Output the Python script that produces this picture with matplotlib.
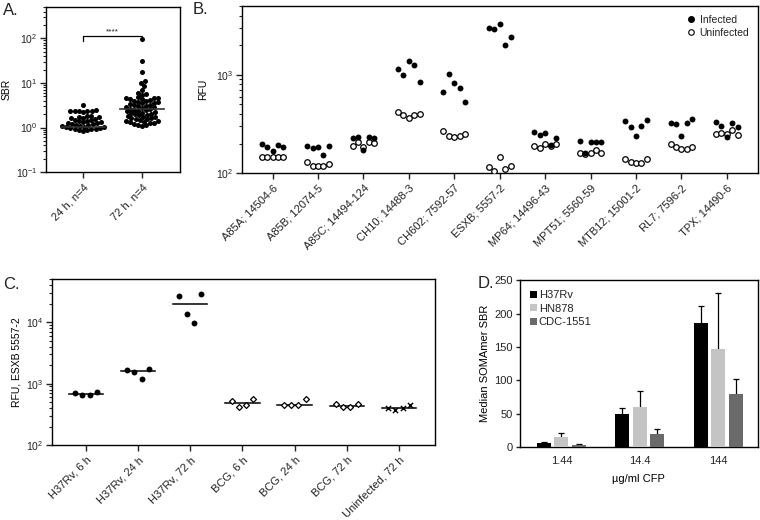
import numpy as np
import matplotlib
matplotlib.use("Agg")
import matplotlib.pyplot as plt
from matplotlib.ticker import LogLocator, NullFormatter
from matplotlib.patches import Patch
from matplotlib.lines import Line2D

plt.rcParams['font.family'] = ['Liberation Sans', 'DejaVu Sans']
plt.rcParams['mathtext.default'] = 'regular'
plt.rcParams['font.size'] = 7.5
plt.rcParams['axes.linewidth'] = 1.0
plt.rcParams['text.color'] = '#222222'
plt.rcParams['xtick.color'] = '#222222'
plt.rcParams['ytick.color'] = '#222222'

"""
Data
"""
# Panel A: SBR per SOMAmer
a_groups = ['24 h, n=4', '72 h, n=4']
sbr_24h = [3.2, 2.25, 2.3, 2.3, 2.35, 2.4, 2.4, 2.45,
           0.85, 0.87, 0.89, 0.91, 0.93, 0.95, 0.97, 0.99, 1.01, 1.03, 1.05,
           1.08, 1.1, 1.13, 1.16, 1.19, 1.22, 1.25, 1.28, 1.31, 1.35, 1.39,
           1.43, 1.47, 1.51, 1.55, 1.6, 1.65, 1.7, 1.75, 1.8, 1.85]
sbr_72h = [95, 31, 18, 11, 10, 8.5, 7.0, 6.0, 5.7, 5.5,
           4.2, 4.3, 4.4, 4.5, 4.6, 4.7, 4.8,
           1.10, 1.13, 1.17, 1.20, 1.24, 1.28, 1.31, 1.35, 1.39, 1.43, 1.48,
           1.52, 1.57, 1.61, 1.66, 1.71, 1.76, 1.82, 1.87, 1.93, 1.99, 2.05,
           2.11, 2.17, 2.24, 2.30, 2.37, 2.44, 2.52, 2.59, 2.67, 2.75, 2.83,
           2.92, 3.00, 3.10, 3.19, 3.28, 3.38, 3.48, 3.59, 3.70, 3.81, 3.92, 4.0]
a_medians = [1.02, 2.6]

# Panel B: RFU per SOMAmer, 5 replicates each
b_labels = ['A85A; 14504-6', 'A85B; 12074-5', 'A85C; 14494-124', 'CH10; 14488-3',
            'CH602; 7592-57', 'ESXB; 5557-2', 'MP64; 14496-43', 'MPT51; 5560-59',
            'MTB12; 15001-2', 'RL7; 7596-2', 'TPX; 14490-6']
b_infected = [[198, 186, 169, 192, 183],
              [189, 181, 184, 152, 189],
              [229, 235, 172, 233, 229],
              [1143, 1006, 1389, 1265, 849],
              [676, 1023, 822, 742, 535],
              [2995, 2925, 3310, 2025, 2460],
              [260, 244, 258, 193, 226],
              [212, 161, 206, 207, 206],
              [339, 297, 239, 302, 347],
              [321, 318, 239, 321, 358],
              [329, 302, 234, 326, 292]]
b_uninfected = [[147, 147, 147, 147, 147],
                [129, 119, 119, 119, 123],
                [190, 209, 183, 209, 201],
                [422, 391, 367, 391, 400],
                [270, 240, 231, 239, 250],
                [116, 106, 145, 109, 119],
                [188, 180, 197, 188, 200],
                [159, 156, 161, 174, 161],
                [139, 130, 127, 128, 138],
                [196, 183, 176, 178, 185],
                [250, 254, 248, 275, 246]]

# Panel C: ESXB RFU by condition, 4 replicates each
c_labels = ['H37Rv, 6 h', 'H37Rv, 24 h', 'H37Rv, 72 h', 'BCG, 6 h',
            'BCG, 24 h', 'BCG, 72 h', 'Uninfected, 72 h']
c_values = [[713, 654, 654, 724],
            [1655, 1570, 1180, 1738],
            [26250, 13550, 9670, 29050],
            [516, 422, 445, 557],
            [452, 455, 450, 560],
            [461, 412, 417, 472],
            [406, 372, 406, 444]]
c_markers = ['o', 'o', 'o', 'D', 'D', 'D', 'x']

# Panel D: median SBR vs CFP concentration
d_conc = ['1.44', '14.4', '144']
d_strains = ['H37Rv', 'HN878', 'CDC-1551']
d_median = [[7, 50, 186],
            [15, 60, 146.5],
            [3, 19.5, 80]]
d_err = [[1.2, 8, 26],
         [6, 23.5, 85],
         [2, 8, 22]]
d_colors = ['#000000', '#c4c4c4', '#6a6a6a']


"""
Functions
"""
def swarm_x(ax, xc, vals, diam):
    """Beeswarm x positions computed in pixel space"""
    pts = ax.transData.transform(np.column_stack([np.full(len(vals), xc), vals]))
    ys = pts[:, 1]
    placed = []
    offs = np.zeros(len(vals))
    for i in np.argsort(ys):
        y = ys[i]
        near = [(px, py) for px, py in placed if abs(py - y) < diam]
        cands = [0.0]
        for px, py in near:
            dx = np.sqrt(diam ** 2 - (py - y) ** 2)
            cands += [px + dx, px - dx]
        cands.sort(key=abs)
        for c in cands:
            if all((c - px) ** 2 + (y - py) ** 2 >= diam ** 2 - 1e-6 for px, py in near):
                break
        placed.append((c, y))
        offs[i] = c
    x0 = ax.transData.transform((xc, 1))[0]
    x1 = ax.transData.transform((xc + 1, 1))[0]
    return xc + offs / (x1 - x0)


def log_axis(ax, lo, hi):
    ax.set_yscale('log')
    ax.set_ylim(lo, hi)
    ax.yaxis.set_major_locator(LogLocator(base=10, numticks=10))
    ax.yaxis.set_minor_locator(LogLocator(base=10, subs=np.arange(2, 10), numticks=10))
    ax.yaxis.set_minor_formatter(NullFormatter())
    ax.tick_params(axis='y', which='major', direction='out', length=4, width=1, labelsize=7.5, pad=2)
    ax.tick_params(axis='y', which='minor', direction='out', length=2, width=0.8)


def cat_axis(ax, labels):
    ax.set_xticks(range(len(labels)))
    ax.set_xticklabels(labels, rotation=45, ha='right', va='top', rotation_mode='anchor')
    ax.tick_params(axis='x', direction='out', length=4, width=1, labelsize=8, pad=3)


fig = plt.figure(figsize=(7.6, 5.2), dpi=100)

"""
Panel A
"""
axA = fig.add_axes([0.0605, 0.669, 0.176, 0.317])
log_axis(axA, 0.1, 500)
axA.set_xlim(-0.63, 1.64)
cat_axis(axA, a_groups)
axA.set_ylabel('SBR', fontsize=7.5, labelpad=3)
for i, vals in enumerate([sbr_24h, sbr_72h]):
    xs = swarm_x(axA, i, vals, 4.3)
    axA.scatter(xs, vals, s=13, color='black', linewidths=0, zorder=3)
    axA.plot([i - 0.38, i + 0.38], [a_medians[i]] * 2, color='#333333', lw=1.2, zorder=4)
axA.plot([0, 0, 1, 1], [88, 116, 116, 88], color='black', lw=0.9)
axA.text(0.5, 119, '****', ha='center', va='bottom', fontsize=6)

"""
Panel B
"""
axB = fig.add_axes([0.318, 0.667, 0.679, 0.321])
log_axis(axB, 100, 5000)
axB.set_xlim(-0.68, 10.68)
cat_axis(axB, b_labels)
axB.set_ylabel('RFU', fontsize=7.5, labelpad=6)
b_offsets = np.array([-0.24, -0.12, 0.0, 0.12, 0.24])
for i in range(len(b_labels)):
    axB.scatter(i + b_offsets, b_uninfected[i], s=16, facecolor='white', edgecolor='black',
                linewidths=0.9, zorder=3)
    axB.scatter(i + b_offsets, b_infected[i], s=18, color='black', linewidths=0, zorder=4)
handles = [Line2D([], [], marker='o', ls='none', color='black', markersize=4),
           Line2D([], [], marker='o', ls='none', markerfacecolor='white',
                  markeredgecolor='black', markersize=4, markeredgewidth=0.8)]
axB.legend(handles, ['Infected', 'Uninfected'], loc='upper right', frameon=False,
           fontsize=7.5, handletextpad=0.3, labelspacing=0.3, borderaxespad=0.4,
           handlelength=1.0)

"""
Panel C
"""
axC = fig.add_axes([0.0684, 0.144, 0.504, 0.319])
log_axis(axC, 100, 50000)
axC.set_xlim(-0.65, 6.69)
cat_axis(axC, c_labels)
axC.set_ylabel('RFU, ESXB 5557-2', fontsize=7.5, labelpad=3)
c_offsets = np.array([-0.21, -0.07, 0.07, 0.21])
for i, vals in enumerate(c_values):
    m = c_markers[i]
    if m == 'o':
        axC.scatter(i + c_offsets, vals, s=18, color='black', linewidths=0, zorder=3)
    elif m == 'D':
        axC.scatter(i + c_offsets, vals, s=9, marker='D', facecolor='white',
                    edgecolor='black', linewidths=0.9, zorder=3)
    else:
        axC.scatter(i + c_offsets, vals, s=14, marker='x', color='black', linewidths=1.0, zorder=3)
    med = np.median(vals)
    axC.plot([i - 0.33, i + 0.33], [med, med], color='black', lw=1.1, zorder=2)

"""
Panel D
"""
axD = fig.add_axes([0.684, 0.140, 0.313, 0.321])
xpos = np.arange(len(d_conc))
bar_w = 0.178
for j, strain in enumerate(d_strains):
    xb = xpos + (j - 1) * 0.223
    axD.errorbar(xb, d_median[j], yerr=d_err[j], fmt='none', ecolor='black',
                 elinewidth=0.9, capsize=2.3, capthick=0.9, zorder=2)
    axD.bar(xb, d_median[j], width=bar_w, color=d_colors[j], zorder=3, label=strain)
axD.set_xlim(-0.53, 2.50)
axD.set_ylim(0, 250)
axD.set_yticks([0, 50, 100, 150, 200, 250])
axD.set_xticks(xpos)
axD.set_xticklabels(d_conc)
axD.tick_params(axis='x', length=0, pad=6, labelsize=8)
axD.tick_params(axis='y', direction='out', length=3, width=1, labelsize=8, pad=2)
axD.set_xlabel('\u00b5g/ml CFP', fontsize=8, labelpad=6)
axD.set_ylabel('Median SOMAmer SBR', fontsize=8, labelpad=3)
leg_handles = [Patch(facecolor=c, edgecolor='none') for c in d_colors]
axD.legend(leg_handles, d_strains, loc='upper left', frameon=False, fontsize=8,
           handlelength=0.6, handleheight=0.6, handletextpad=0.2, labelspacing=0.3,
           borderaxespad=0.5)

# Panel letters
fig.text(0.004, 0.995, 'A.', fontsize=12, va='top')
fig.text(0.253, 0.997, 'B.', fontsize=12, va='top')
fig.text(0.004, 0.467, 'C.', fontsize=12, va='top')
fig.text(0.628, 0.470, 'D.', fontsize=12, va='top')

plt.savefig('out.png', dpi=100)
plt.close(fig)
